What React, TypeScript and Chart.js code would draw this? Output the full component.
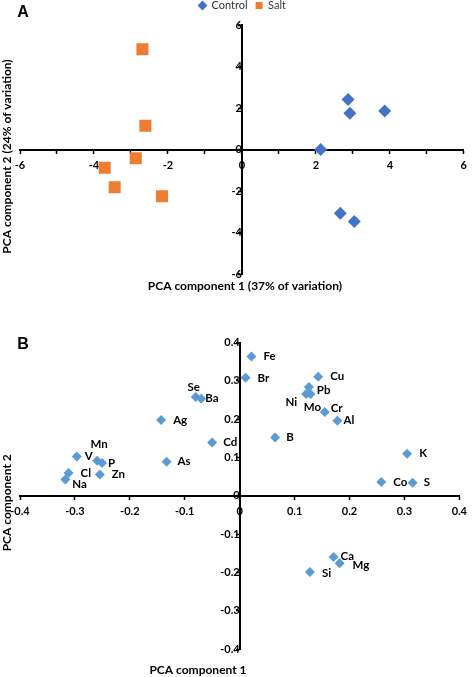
import React, { useEffect, useRef } from 'react';
import { Chart, registerables } from 'chart.js';
Chart.register(...registerables);

// ---- Panel A data (sample scores) ----
const controlPC1 = [2.87, 2.92, 3.86, 2.13, 2.66, 3.04];
const controlPC2 = [2.41, 1.75, 1.85, 0.0, -3.07, -3.47];
const saltPC1 = [-2.69, -2.61, -2.87, -3.71, -3.44, -2.16];
const saltPC2 = [4.83, 1.14, -0.42, -0.88, -1.82, -2.25];

// ---- Panel B data (element loadings) ----
const elements = ['Fe', 'Br', 'Cu', 'Pb', 'Ni', 'Mo', 'Cr', 'Al', 'B', 'K', 'Co', 'S', 'Ca', 'Mg', 'Si', 'Se', 'Ba', 'Ag', 'Cd', 'As', 'Mn', 'V', 'P', 'Zn', 'Cl', 'Na'];
const loadingPC1 = [0.0215, 0.0108, 0.143, 0.126, 0.121, 0.129, 0.155, 0.178, 0.0646, 0.305, 0.258, 0.315, 0.171, 0.182, 0.128, -0.080, -0.070, -0.143, -0.050, -0.133, -0.2596, -0.2965, -0.2506, -0.2547, -0.3116, -0.3175];
const loadingPC2 = [0.364, 0.308, 0.311, 0.284, 0.266, 0.266, 0.219, 0.196, 0.152, 0.110, 0.036, 0.034, -0.160, -0.176, -0.199, 0.258, 0.2535, 0.198, 0.139, 0.089, 0.0916, 0.1027, 0.0854, 0.0554, 0.0595, 0.0424];

// label placement (pixel offsets from the marker), layout only
const labelPlacement: Record<string, [number, number, CanvasTextAlign]> = {
  Fe: [12, 0, 'left'], Br: [12, 0, 'left'], Cu: [12, 0, 'left'], Pb: [8, 3, 'left'],
  Ni: [-9, 8, 'right'], Mo: [2, 13, 'center'], Cr: [6, -4, 'left'], Al: [6, 0, 'left'],
  B: [11, 0, 'left'], K: [12, 0, 'left'], Co: [12, 0, 'left'], S: [11, 0, 'left'],
  Ca: [7, -1, 'left'], Mg: [13, 2, 'left'], Si: [12, 1, 'left'], Se: [-2, -10, 'center'],
  Ba: [4, 0, 'left'], Ag: [12, 0, 'left'], Cd: [11, 0, 'left'], As: [11, 0, 'left'],
  Mn: [2, -16, 'center'], V: [8, 0, 'left'], P: [6, 0, 'left'], Zn: [12, 0, 'left'],
  Cl: [12, 0, 'left'], Na: [7, 5, 'left'],
};

const FONT = 'Lato';
const tickFont = { family: FONT, size: 11, weight: 'bold' as const };

type TextItem = { text: string; x: (ca: any) => number; y: (ca: any) => number; rot?: number; font: string };

const textPlugin = (items: TextItem[]) => ({
  id: 'texts',
  afterDraw(chart: any) {
    const ctx = chart.ctx;
    const ca = chart.chartArea;
    ctx.save();
    ctx.fillStyle = '#000';
    ctx.textAlign = 'center';
    ctx.textBaseline = 'middle';
    items.forEach((it) => {
      ctx.save();
      ctx.translate(it.x(ca), it.y(ca));
      if (it.rot) ctx.rotate(it.rot);
      ctx.font = it.font;
      ctx.fillText(it.text, 0, 0);
      ctx.restore();
    });
    ctx.restore();
  },
});

const pointLabelPlugin = {
  id: 'pointLabels',
  afterDatasetsDraw(chart: any) {
    const ctx = chart.ctx;
    const meta = chart.getDatasetMeta(0);
    ctx.save();
    ctx.fillStyle = '#000';
    ctx.font = `bold 11.5px ${FONT}`;
    ctx.textBaseline = 'middle';
    meta.data.forEach((el: any, i: number) => {
      const name = elements[i];
      const [dx, dy, align] = labelPlacement[name] || [12, 0, 'left'];
      ctx.textAlign = align;
      ctx.fillText(name, el.x + dx, el.y + dy);
    });
    ctx.restore();
  },
};

const legendShift = {
  id: 'legendShift',
  afterLayout(chart: any) {
    const l = chart.legend;
    if (l) { l.top -= 4; l.bottom -= 4; }
  },
};

function axisBase(min: number, max: number, step: number, pos: any, fmt: (v: number) => string) {
  return {
    type: 'linear' as const,
    min, max,
    position: pos,
    ticks: { stepSize: step, callback: (v: any) => fmt(Number(v)), font: tickFont, color: '#000', padding: 6, autoSkip: false, maxRotation: 0 },
    grid: { drawOnChartArea: false, drawTicks: true, tickLength: 3, tickColor: '#000', tickWidth: 1.5 },
    border: { display: true, color: '#000', width: 2 },
  };
}

function ChartBox({ config, top, height }: { config: any; top: number; height: number }) {
  const ref = useRef<HTMLCanvasElement>(null);
  useEffect(() => {
    const chart = new Chart(ref.current!, config);
    return () => chart.destroy();
  }, []);
  return (
    <div style={{ position: 'absolute', left: 0, top, width: 473, height }}>
      <canvas ref={ref} />
    </div>
  );
}

const configA = {
  type: 'scatter',
  data: {
    datasets: [
      { label: 'Control', data: controlPC1.map((x, i) => ({ x, y: controlPC2[i] })), pointStyle: 'rectRot', pointRadius: 6.5, backgroundColor: '#4472C4', borderColor: '#4472C4', borderWidth: 0 },
      { label: 'Salt', data: saltPC1.map((x, i) => ({ x, y: saltPC2[i] })), pointStyle: 'rect', pointRadius: 8.5, backgroundColor: '#ED7D31', borderColor: '#ED7D31', borderWidth: 0 },
    ],
  },
  options: {
    animation: false,
    responsive: true,
    maintainAspectRatio: false,
    layout: { padding: { left: 20, right: 8, top: -4, bottom: 56 } },
    plugins: {
      legend: { display: true, position: 'top', labels: { usePointStyle: true, boxWidth: 7, boxHeight: 7, padding: 8, color: '#333', font: { family: FONT, size: 11 } } },
      tooltip: { enabled: false },
    },
    scales: {
      x: axisBase(-6, 6, 1, { y: 0 }, (v) => (Math.round(v) % 2 === 0 ? String(Math.round(v)) : '')),
      y: axisBase(-6, 6, 2, { x: 0 }, (v) => String(Math.round(v))),
    },
  },
  plugins: [
    legendShift,
    textPlugin([
      { text: 'A', x: () => 23, y: () => 13, font: 'bold 16px "Liberation Sans"' },
      { text: 'PCA component 2 (24% of variation)', x: () => 7, y: (ca) => (ca.top + ca.bottom) / 2 + 7, rot: -Math.PI / 2, font: `bold 12px ${FONT}` },
      { text: 'PCA component 1 (37% of variation)', x: (ca) => (ca.left + ca.right) / 2 + 3, y: (ca) => ca.bottom + 12, font: `bold 12px ${FONT}` },
    ]),
  ],
};

const configB = {
  type: 'scatter',
  data: {
    datasets: [
      { label: 'Loadings', data: loadingPC1.map((x, i) => ({ x, y: loadingPC2[i] })), pointStyle: 'rectRot', pointRadius: 5, backgroundColor: '#5B9BD5', borderColor: '#5B9BD5', borderWidth: 0 },
    ],
  },
  options: {
    animation: false,
    responsive: true,
    maintainAspectRatio: false,
    layout: { padding: { left: 20, right: 7, top: 10, bottom: 28 } },
    plugins: { legend: { display: false }, tooltip: { enabled: false } },
    scales: {
      x: axisBase(-0.4, 0.4, 0.1, { y: 0 }, (v) => (Math.abs(v) < 1e-9 ? '0' : v.toFixed(1))),
      y: axisBase(-0.4, 0.4, 0.1, { x: 0 }, (v) => (Math.abs(v) < 1e-9 ? '0' : v.toFixed(1))),
    },
  },
  plugins: [
    pointLabelPlugin,
    textPlugin([
      { text: 'B', x: () => 23, y: () => 14.5, font: 'bold 16px "Liberation Sans"' },
      { text: 'PCA component 2', x: () => 7, y: (ca) => (ca.top + ca.bottom) / 2 + 7, rot: -Math.PI / 2, font: `bold 12px ${FONT}` },
      { text: 'PCA component 1', x: () => 198, y: (ca) => ca.bottom + 21, font: `bold 12px ${FONT}` },
    ]),
  ],
};

export default function App() {
  return (
    <div style={{ position: 'absolute', left: 0, top: 0, width: 473, height: 677, background: '#fff' }}>
      <ChartBox config={configA} top={0} height={330} />
      <ChartBox config={configB} top={330} height={347} />
    </div>
  );
}
